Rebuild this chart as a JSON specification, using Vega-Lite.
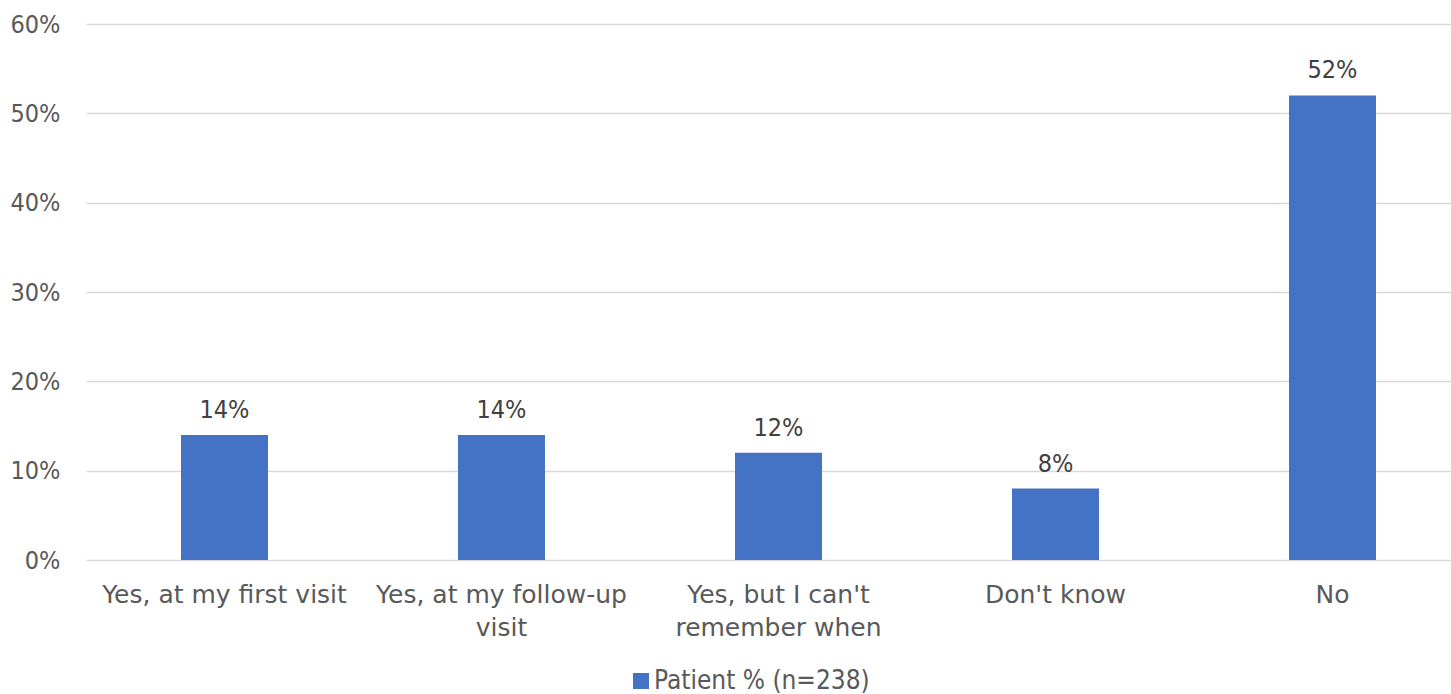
{
  "$schema": "https://vega.github.io/schema/vega-lite/v6.json",
  "autosize": {"type": "none"},
  "width": 1385,
  "height": 536,
  "padding": {"left": 86, "top": 24, "right": 0, "bottom": 134},
  "background": "white",
  "config": {
    "view": {"stroke": null},
    "font": "DejaVu Sans Condensed"
  },
  "data": {
    "values": [
      {"category": "Yes, at my first visit", "value": 0.14, "series": "Patient % (n=238)"},
      {"category": "Yes, at my follow-up visit", "value": 0.14, "series": "Patient % (n=238)"},
      {"category": "Yes, but I can't remember when", "value": 0.12, "series": "Patient % (n=238)"},
      {"category": "Don't know", "value": 0.08, "series": "Patient % (n=238)"},
      {"category": "No", "value": 0.52, "series": "Patient % (n=238)"}
    ]
  },
  "encoding": {
    "x": {
      "field": "category",
      "type": "nominal",
      "sort": null,
      "scale": {"paddingInner": 0.686, "paddingOuter": 0.343},
      "axis": {
        "title": null,
        "labelAngle": 0,
        "domain": false,
        "ticks": false,
        "labelFont": "DejaVu Sans",
        "labelFontSize": 25,
        "labelColor": "#595959",
        "labelPadding": 22,
        "labelLimit": 400,
        "labelLineHeight": 33,
        "labelBaseline": "top",
        "labelExpr": "datum.label == 'Yes, at my follow-up visit' ? ['Yes, at my follow-up', 'visit'] : datum.label == \"Yes, but I can't remember when\" ? [\"Yes, but I can't\", 'remember when'] : datum.label"
      }
    },
    "y": {
      "field": "value",
      "type": "quantitative",
      "scale": {"domain": [0, 0.6]},
      "axis": {
        "title": null,
        "format": ".0%",
        "values": [0, 0.1, 0.2, 0.3, 0.4, 0.5, 0.6],
        "domain": false,
        "ticks": false,
        "labelFontSize": 25,
        "labelColor": "#595959",
        "labelPadding": 26,
        "gridColor": "#d9d9d9",
        "gridWidth": 1.5
      }
    }
  },
  "layer": [
    {
      "mark": {"type": "bar", "color": "#4472C4"},
      "encoding": {
        "color": {
          "field": "series",
          "type": "nominal",
          "scale": {"range": ["#4472C4"]},
          "legend": {
            "title": null,
            "orient": "none",
            "legendX": 542,
            "legendY": 644,
            "symbolType": "square",
            "symbolSize": 256,
            "symbolStrokeWidth": 0,
            "labelFontSize": 26,
            "labelColor": "#595959",
            "labelOffset": 0,
            "labelLimit": 400
          }
        }
      }
    },
    {
      "mark": {"type": "text", "baseline": "bottom", "dy": -12, "fontSize": 25, "color": "#404040"},
      "encoding": {
        "text": {"field": "value", "type": "quantitative", "format": ".0%"}
      }
    }
  ]
}
